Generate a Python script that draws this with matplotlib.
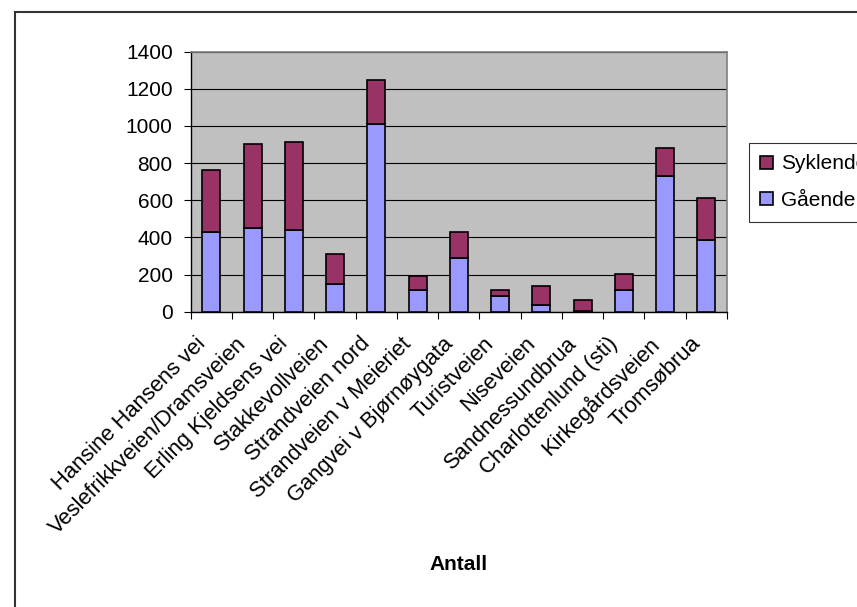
import matplotlib
matplotlib.use("Agg")
import matplotlib.pyplot as plt
import matplotlib.patches as mpatches
import matplotlib.transforms as mtransforms
import numpy as np

categories = ["Hansine Hansens vei", "Veslefrikkveien/Dramsveien", "Erling Kjeldsens vei",
              "Stakkevollveien", "Strandveien nord", "Strandveien v Meieriet",
              "Gangvei v Bjørnøygata", "Turistveien", "Niseveien", "Sandnessundbrua",
              "Charlottenlund (sti)", "Kirkegårdsveien", "Tromsøbrua"]
gaende = [430, 450, 440, 148, 1010, 116, 287, 83, 38, 5, 117, 731, 386]
syklende = [333, 453, 474, 163, 238, 76, 144, 35, 100, 60, 88, 152, 228]
yticks = [0, 200, 400, 600, 800, 1000, 1200, 1400]

plt.rcParams['font.family'] = ['Liberation Sans', 'DejaVu Sans']

W, H = 857, 607
fig = plt.figure(figsize=(W / 100, H / 100), dpi=100)
ax = fig.add_axes([190.7 / W, 1 - 311.7 / H, (727 - 190.7) / W, (311.7 - 51.7) / H])
ax.set_facecolor('#C0C0C0')

x = np.arange(len(categories))
ax.bar(x, gaende, width=0.44, color='#9999FF', edgecolor='black', linewidth=1.2, zorder=3, label='Gående')
ax.bar(x, syklende, bottom=gaende, width=0.44, color='#993366', edgecolor='black', linewidth=1.2, zorder=3, label='Syklende')

ax.set_xlim(-0.5, len(categories) - 0.5)
ax.set_ylim(0, 1400)
ax.set_yticks(yticks)
ax.set_yticklabels([str(v) for v in yticks], fontsize=15)
ax.yaxis.grid(True, color='black', linewidth=0.8, zorder=1)
ax.set_axisbelow(True)

ax.set_xticks(np.arange(len(categories) + 1) - 0.5)
ax.set_xticklabels([])
ax.tick_params(axis='x', which='major', direction='out', length=5, width=0.8, color='black')
ax.tick_params(axis='y', direction='out', length=5, width=0.8, color='black', pad=8)

# category labels: placed at each category position via the axis' data transform
trans = mtransforms.blended_transform_factory(ax.transData, ax.transAxes) + \
    mtransforms.ScaledTranslation(-0.09, -0.29, fig.dpi_scale_trans)
for xi, c in zip(x, categories):
    ax.text(xi, 0, c, transform=trans, rotation=45, ha='right', va='center',
            rotation_mode='anchor', fontsize=15.8, clip_on=False)

for s in ['top', 'right']:
    ax.spines[s].set_color('#808080')
    ax.spines[s].set_linewidth(1.2)
for s in ['left', 'bottom']:
    ax.spines[s].set_color('black')
    ax.spines[s].set_linewidth(1.0)

fig.text(459 / W, 1 - 565 / H, 'Antall', fontsize=15, fontweight='bold', ha='center', va='center')

h1 = mpatches.Patch(facecolor='#993366', edgecolor='black', linewidth=1.2, label='Syklende')
h2 = mpatches.Patch(facecolor='#9999FF', edgecolor='black', linewidth=1.2, label='Gående')
leg = fig.legend(handles=[h1, h2], loc='upper left', bbox_to_anchor=(749 / W, 1 - 143 / H),
                 bbox_transform=fig.transFigure, fontsize=15, frameon=True, fancybox=False,
                 borderaxespad=0, handlelength=0.6, handleheight=0.6, handletextpad=0.4,
                 labelspacing=0.85, borderpad=0.55)
leg.get_frame().set_edgecolor('black')
leg.get_frame().set_linewidth(0.8)

border = mpatches.Rectangle((15 / W, -0.1), 2, 1 - 12 / H + 0.1, transform=fig.transFigure,
                            fill=False, edgecolor='#333333', linewidth=1.5)
fig.add_artist(border)

fig.savefig('out.png', dpi=100)
